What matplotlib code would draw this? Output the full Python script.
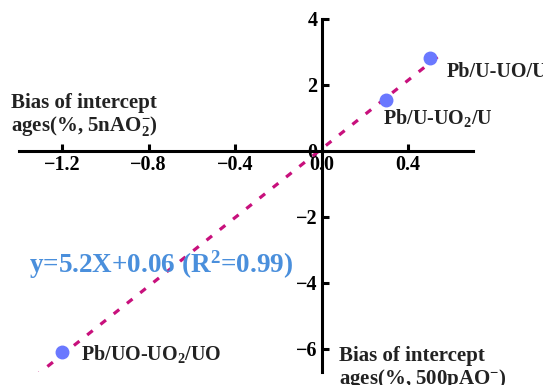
import matplotlib
matplotlib.use("Agg")
import matplotlib.pyplot as plt
import numpy as np

plt.rcParams["font.family"] = ["Liberation Serif", "DejaVu Serif"]
plt.rcParams["font.weight"] = "bold"
plt.rcParams["mathtext.fontset"] = "custom"
plt.rcParams["mathtext.rm"] = "Liberation Serif:bold"
plt.rcParams["mathtext.it"] = "Liberation Serif:bold"
plt.rcParams["mathtext.bf"] = "Liberation Serif:bold"

# data
point_x = [0.5, 0.3, -1.2]
point_y = [2.8, 1.55, -6.1]
point_labels = ["Pb/U-UO/U", "Pb/U-UO$_2$/U", "Pb/UO-UO$_2$/UO"]
slope, intercept = 5.2, 0.06
fit_range = [-1.33, 0.57]
x_ticks = [-1.2, -0.8, -0.4, 0.0, 0.4]
y_ticks = [-6, -4, -2, 0, 2, 4]

fig = plt.figure(figsize=(5.43, 3.85), dpi=100)
ax = fig.add_axes([0.035, 0.034, 0.836, 0.917])

xf = np.array(fit_range)
ax.plot(xf, slope * xf + intercept, color="#c8107c", lw=2.3,
        linestyle=(0, (2.2, 3.1)), zorder=2)
ax.plot(point_x, point_y, "o", color="#6a78ff", ms=9, zorder=3)

ax.set_xlim(-1.40, 0.70)
ax.set_ylim(-6.7, 4.0)
ax.set_xticks(x_ticks)
ax.set_yticks(y_ticks)

ax.spines["left"].set_position(("data", 0))
ax.spines["bottom"].set_position(("data", 0))
ax.spines["top"].set_visible(False)
ax.spines["right"].set_visible(False)
for s in ("left", "bottom"):
    ax.spines[s].set_linewidth(2.2)
ax.tick_params(direction="in", length=5, width=2.2, labelsize=14.5,
               pad=3, colors="black")
for lab in ax.get_xticklabels() + ax.get_yticklabels():
    lab.set_fontweight("bold")

offsets = [(0.08, -0.42), (-0.014, -0.55), (0.088, -0.06)]
for x, y, t, (dx, dy) in zip(point_x, point_y, point_labels, offsets):
    ax.text(x + dx, y + dy, t, fontsize=14.5, fontweight="bold",
            color="#222222", va="center", ha="left")

ax.text(-1.437, 1.06, "Bias of intercept\nages(%, 5nAO$_2^{-}$)",
        fontsize=15, fontweight="bold", color="#222222",
        va="center", ha="left", linespacing=1.05)
ax.text(0.08, -6.6, "Bias of intercept\nages(%, 500pAO$^{-}$)",
        fontsize=15, fontweight="bold", color="#222222",
        va="center", ha="left", linespacing=1.05)

ax.text(-1.355, -3.45, "y=5.2X+0.06 (R$^2$=0.99)", fontsize=19.5,
        fontweight="bold", color="#4a8fdc", va="center", ha="left")

fig.savefig("out.png", dpi=100)
